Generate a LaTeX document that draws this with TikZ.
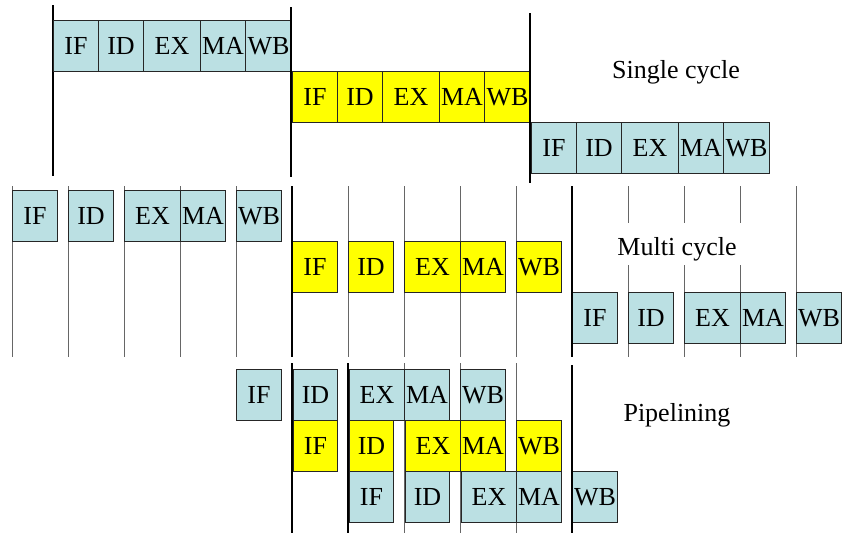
\documentclass[tikz,border=0pt]{standalone}
\usepackage{fontspec}
\setmainfont{Liberation Serif}
\definecolor{stageblue}{HTML}{BBE0E3}
\definecolor{stageyellow}{HTML}{FFFF00}
\tikzset{
  stage/.style={draw=black!85, line width=1pt, inner sep=0pt, anchor=north west,
    minimum height=51pt, font=\fontsize{26}{30}\selectfont},
  bluestage/.style={stage, fill=stageblue},
  yellowstage/.style={stage, fill=stageyellow},
  caption/.style={inner sep=0pt, anchor=base, font=\fontsize{26}{30}\selectfont},
  periodline/.style={draw=black!60, line width=0.9pt},
  boundary/.style={draw=black, line width=2.6pt},
  mediumline/.style={draw=black, line width=1.4pt},
}
% \stagebox{style}{name}{left x}{top y}{width}{label}
\newcommand{\stagebox}[6]{\node[#1, minimum width=#5pt] (#2) at (#3,#4) {#6};}
\begin{document}
\begin{tikzpicture}[x=1pt,y=-1pt]
\useasboundingbox (0,0) rectangle (847,533);

% ---------- clock period lines behind the stages ----------
\draw[black, line width=1.2pt] (53,5) -- (53,176);
\foreach \x in {12,68,124,180,236,348,404,460,516,796}
  \draw[periodline] (\x,186) -- (\x,357);
\foreach \x in {628,684,740}{
  \draw[periodline] (\x,186) -- (\x,223);
  \draw[periodline] (\x,265) -- (\x,357);
}
\foreach \x in {404,460,516}
  \draw[periodline] (\x,363) -- (\x,533);

% ---------- single cycle ----------
\stagebox{bluestage}{sa1}{53}{20}{45}{IF}
\stagebox{bluestage}{sa2}{98}{20}{45}{ID}
\stagebox{bluestage}{sa3}{143}{20}{57}{EX}
\stagebox{bluestage}{sa4}{200}{20}{45}{MA}
\stagebox{bluestage}{sa5}{245}{20}{46}{WB}

\stagebox{yellowstage}{sb1}{292}{71}{45}{IF}
\stagebox{yellowstage}{sb2}{337}{71}{45}{ID}
\stagebox{yellowstage}{sb3}{382}{71}{57}{EX}
\stagebox{yellowstage}{sb4}{439}{71}{45}{MA}
\stagebox{yellowstage}{sb5}{484}{71}{46}{WB}

\stagebox{bluestage}{sc1}{531}{122}{45}{IF}
\stagebox{bluestage}{sc2}{576}{122}{45}{ID}
\stagebox{bluestage}{sc3}{621}{122}{57}{EX}
\stagebox{bluestage}{sc4}{678}{122}{45}{MA}
\stagebox{bluestage}{sc5}{723}{122}{46}{WB}

\draw[boundary] (291,7) -- (291,177);
\draw[boundary] (530,13) -- (530,183);

\node[caption] (single) at (676,78) {Single cycle};

% ---------- multi cycle ----------
\stagebox{bluestage}{ma1}{12}{190}{45}{IF}
\stagebox{bluestage}{ma2}{68}{190}{45}{ID}
\stagebox{bluestage}{ma3}{124}{190}{56}{EX}
\stagebox{bluestage}{ma4}{180}{190}{45}{MA}
\stagebox{bluestage}{ma5}{236}{190}{45}{WB}

\stagebox{yellowstage}{mb1}{292}{241}{45}{IF}
\stagebox{yellowstage}{mb2}{348}{241}{45}{ID}
\stagebox{yellowstage}{mb3}{404}{241}{56}{EX}
\stagebox{yellowstage}{mb4}{460}{241}{45}{MA}
\stagebox{yellowstage}{mb5}{516}{241}{45}{WB}

\stagebox{bluestage}{mc1}{572}{292}{45}{IF}
\stagebox{bluestage}{mc2}{628}{292}{45}{ID}
\stagebox{bluestage}{mc3}{684}{292}{56}{EX}
\stagebox{bluestage}{mc4}{740}{292}{45}{MA}
\stagebox{bluestage}{mc5}{796}{292}{45}{WB}

\draw[boundary] (292,186) -- (292,357);
\draw[boundary] (572,186) -- (572,357);

\node[caption] (multi) at (677,255) {Multi cycle};

% ---------- pipelining ----------
\stagebox{bluestage}{pa1}{236}{369}{45}{IF}
\stagebox{bluestage}{pa2}{293}{369}{44}{ID}
\stagebox{bluestage}{pa3}{349}{369}{55}{EX}
\stagebox{bluestage}{pa4}{404}{369}{45}{MA}
\stagebox{bluestage}{pa5}{460}{369}{45}{WB}

\stagebox{yellowstage}{pb1}{293}{420}{44}{IF}
\stagebox{yellowstage}{pb2}{349}{420}{44}{ID}
\stagebox{yellowstage}{pb3}{405}{420}{55}{EX}
\stagebox{yellowstage}{pb4}{460}{420}{45}{MA}
\stagebox{yellowstage}{pb5}{516}{420}{45}{WB}

\stagebox{bluestage}{pc1}{349}{471}{44}{IF}
\stagebox{bluestage}{pc2}{405}{471}{44}{ID}
\stagebox{bluestage}{pc3}{461}{471}{55}{EX}
\stagebox{bluestage}{pc4}{516}{471}{45}{MA}
\stagebox{bluestage}{pc5}{572}{471}{45}{WB}

\draw[boundary] (292,363) -- (292,533);
\draw[boundary] (348,363) -- (348,533);
\draw[mediumline] (572,365) -- (572,533);

\node[caption] (pipe) at (677,421) {Pipelining};
\end{tikzpicture}
\end{document}
